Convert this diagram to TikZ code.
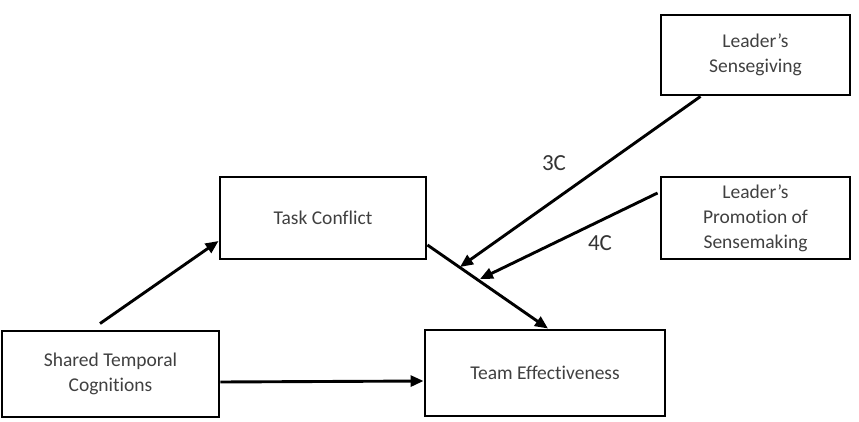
\documentclass[tikz,border=0pt]{standalone}
\usepackage{fontspec}
\setmainfont[Ligatures=NoCommon]{Carlito}
\usetikzlibrary{arrows.meta,calc}
\begin{document}
\begin{tikzpicture}[x=1pt,y=-1pt,
  box/.style={draw=black,line width=2.9pt,align=center,inner sep=0pt,
    font=\fontsize{19.5}{25}\selectfont,text=black!75},
  arr/.style={line width=2.9pt,-{Triangle[length=13pt,width=11pt]}},
  lbl/.style={font=\fontsize{23}{26}\selectfont,text=black!80}]
\useasboundingbox (0,0) rectangle (859,422);
\node[box,minimum width=217pt,minimum height=86pt] (stc) at (110.5,374) {Shared Temporal\\Cognitions};
\node[box,minimum width=240pt,minimum height=86pt] (te) at (545,373) {Team Effectiveness};
\node[box,minimum width=206pt,minimum height=82pt] (tc) at (323,218) {Task Conflict};
\node[box,minimum width=189pt,minimum height=80pt] (ls) at (755.5,55) {Leader's\\Sensegiving};
\node[box,minimum width=189pt,minimum height=82pt] (lp) at (755.5,218) {Leader's\\Promotion of\\Sensemaking};
\coordinate (m3) at (460,267);
\coordinate (m4) at (480,279);
\draw[arr] ([xshift=-10.5pt,yshift=6pt]stc.north) -- ([yshift=-23pt]tc.west);
\draw[arr] ([yshift=-8pt]stc.east) -- ([yshift=-8pt]te.west);
\draw[arr] ([yshift=-27pt]tc.east) -- ([xshift=3pt]te.north);
\draw[arr] ([xshift=-55pt]ls.south) -- (m3);
\draw[arr] ([yshift=25pt,xshift=-2pt]lp.west) -- (m4);
\node[lbl] (l3) at (554,163) {3C};
\node[lbl] (l4) at (600,243) {4C};
\end{tikzpicture}
\end{document}
